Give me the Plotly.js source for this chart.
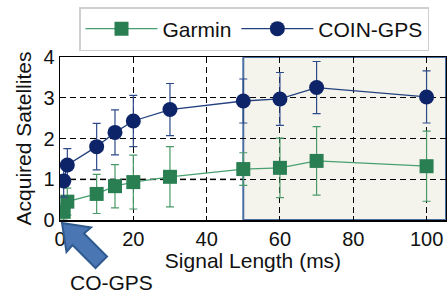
<!DOCTYPE html>
<html><head><meta charset="utf-8">
<script src="https://cdn.plot.ly/plotly-3.0.1.min.js"></script>
<style>html,body{margin:0;padding:0;background:#fff}#chart{width:447px;height:295px}</style>
</head><body><div id="chart"></div>
<script>
const signalLength = [1, 2, 10, 15, 20, 30, 50, 60, 70, 100];
const garminMean = [0.20, 0.45, 0.64, 0.83, 0.93, 1.06, 1.25, 1.28, 1.45, 1.32];
const garminErr  = [0.20, 0.33, 0.48, 0.53, 0.66, 0.74, 0.40, 0.73, 0.84, 0.86];
const coinMean = [0.96, 1.35, 1.80, 2.15, 2.43, 2.71, 2.92, 2.97, 3.25, 3.02];
const coinErr  = [0.40, 0.40, 0.57, 0.55, 0.63, 0.64, 0.54, 0.65, 0.64, 0.64];
const seriesNames = ['Garmin', 'COIN-GPS'];
const xTicks = [0, 20, 40, 60, 80, 100];
const yTicks = [0, 1, 2, 3, 4];
const highlightStart = 50;

const FONT = 'Liberation Sans, Arial, sans-serif';
const xMax = 105.3;

// pixel -> paper helpers for the annotation arrow
const L = 60, R = 1, T = 57, B = 75, W = 447, H = 295;
const pw = W - L - R, ph = H - T - B;
const px = v => ((v - L) / pw).toFixed(4);
const py = v => ((H - B - v) / ph).toFixed(4);
const arrowPts = [[62,223],[91,227.5],[84,233.5],[107,256.5],[95.5,268],[72.5,245],[66.5,252]];
const arrowPath = 'M' + arrowPts.map(p => px(p[0]) + ',' + py(p[1])).join(' L') + ' Z';

const traces = [
  {
    x: signalLength, y: garminMean, name: seriesNames[0], type: 'scatter', mode: 'lines+markers',
    line: {color: '#46a070', width: 1.3},
    marker: {symbol: 'square', size: 14, color: '#2a7f52'},
    error_y: {type: 'data', array: garminErr, visible: true, color: '#4a9a6a', thickness: 1.2, width: 4}
  },
  {
    x: signalLength, y: coinMean, name: seriesNames[1], type: 'scatter', mode: 'lines+markers',
    line: {color: '#23407f', width: 1.3},
    marker: {symbol: 'circle', size: 15, color: '#0e2468'},
    error_y: {type: 'data', array: coinErr, visible: true, color: '#2d4a8a', thickness: 1.2, width: 4}
  }
];

const layout = {
  width: W, height: H,
  margin: {l: L, r: R, t: T, b: B},
  paper_bgcolor: '#fff', plot_bgcolor: '#fff',
  font: {family: FONT, size: 20, color: '#111'},
  showlegend: true,
  legend: {
    orientation: 'h', x: (79 - L) / pw, y: (H - B - 7) / ph, xanchor: 'left', yanchor: 'top',
    bgcolor: '#fff', bordercolor: '#cfcfcf', borderwidth: 1.5,
    itemwidth: 72,
    font: {family: FONT, size: 21, color: '#111'}
  },
  xaxis: {
    range: [0, xMax], tickvals: xTicks, ticktext: xTicks.map(String),
    showline: true, linecolor: '#000', linewidth: 1.5, mirror: true,
    ticks: 'inside', ticklen: 4, tickcolor: '#000',
    showgrid: true, gridcolor: '#000', gridwidth: 1, griddash: '6px,4px',
    zeroline: false,
    tickfont: {family: FONT, size: 20, color: '#111'},
    title: {text: 'Signal Length (ms)', font: {family: FONT, size: 21, color: '#111'}, standoff: 5}
  },
  yaxis: {
    range: [0, 4], tickvals: yTicks, ticktext: yTicks.map(String),
    showline: true, linecolor: '#000', linewidth: 1.5, mirror: true,
    ticks: '', showgrid: true, gridcolor: '#000', gridwidth: 1, griddash: '6px,4px',
    zeroline: false,
    tickfont: {family: FONT, size: 20, color: '#111'},
    title: {text: 'Acquired Satellites', font: {family: FONT, size: 21, color: '#111'}, standoff: 6}
  },
  shapes: [
    {type: 'rect', xref: 'x', yref: 'y', x0: highlightStart, x1: xMax, y0: 0, y1: 4,
     fillcolor: '#f5f4ec', line: {color: '#4a6fa0', width: 2}, layer: 'below'},
    {type: 'line', xref: 'paper', yref: 'y', x0: 0, x1: 1, y0: 1, y1: 1,
     line: {color: '#808080', width: 2, dash: '6px,4px'}, layer: 'below'},
    {type: 'path', xref: 'paper', yref: 'paper', path: arrowPath,
     fillcolor: '#4a77b4', line: {color: '#2f5a8f', width: 2}, layer: 'above'}
  ],
  annotations: [
    {xref: 'paper', yref: 'paper', x: px(112), y: py(282), text: 'CO-GPS', showarrow: false,
     xanchor: 'center', yanchor: 'middle', font: {family: FONT, size: 21, color: '#111'}}
  ]
};

Plotly.newPlot('chart', traces, layout, {displayModeBar: false, staticPlot: true});
</script></body></html>
